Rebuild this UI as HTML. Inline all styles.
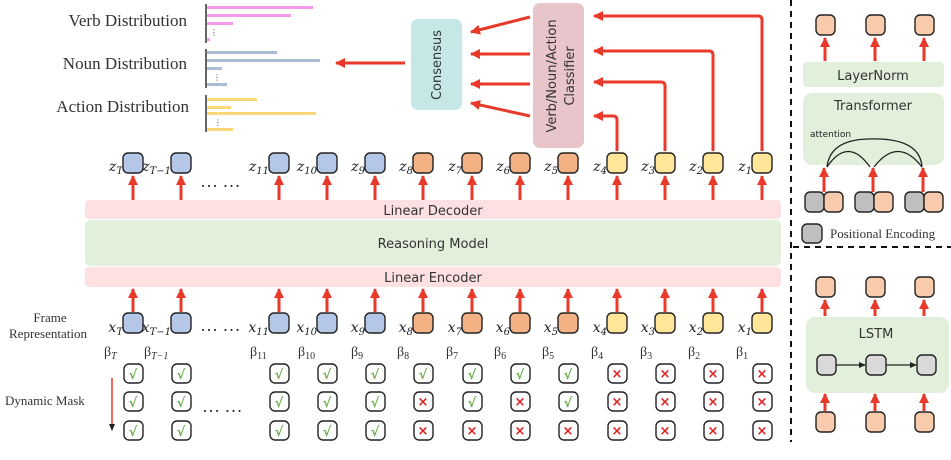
<!DOCTYPE html>
<html><head><meta charset="utf-8"><style>
html,body{margin:0;padding:0;background:#fff}
svg{display:block}
.s{font-family:"DejaVu Sans","Liberation Sans",sans-serif}
.r{font-family:"Liberation Serif","DejaVu Serif",serif;fill:#333}
.m{font-family:"DejaVu Serif","Liberation Serif",serif;font-style:italic;fill:#222}
.b{stroke:#222;stroke-width:1.4}
.ar{stroke:#e8392a;stroke-width:3;fill:none}
.ck{font-family:"DejaVu Sans",sans-serif;font-weight:bold;fill:#6ab04c;font-size:13px}
.xx{font-family:"DejaVu Sans",sans-serif;font-weight:bold;fill:#e02020;font-size:13px}
</style></head><body>
<svg width="951" height="460" viewBox="0 0 951 460" xmlns="http://www.w3.org/2000/svg">
<defs>
<marker id="h" markerUnits="userSpaceOnUse" markerWidth="12" markerHeight="12" refX="9" refY="6" orient="auto">
<path d="M0,1 L10,6 L0,11 Z" fill="#e8392a"/></marker>
<marker id="hs" markerUnits="userSpaceOnUse" markerWidth="8" markerHeight="8" refX="6" refY="4" orient="auto">
<path d="M0,1 L7,4 L0,7 Z" fill="#222"/></marker>
</defs>

<!-- distributions -->
<text class="r" x="187" y="26" font-size="17" text-anchor="end">Verb Distribution</text>
<text class="r" x="187" y="69" font-size="17" text-anchor="end">Noun Distribution</text>
<text class="r" x="189" y="112" font-size="17" text-anchor="end">Action Distribution</text>
<g stroke="#666" stroke-width="2"><line x1="206" y1="4" x2="206" y2="43"/><line x1="206" y1="49" x2="206" y2="88"/><line x1="206" y1="95" x2="206" y2="132"/></g>
<g fill="#f49ae8"><rect x="207" y="6" width="106" height="3"/><rect x="207" y="14" width="84" height="3"/><rect x="207" y="22" width="26" height="3"/><rect x="207" y="38" width="3" height="3"/></g>
<g fill="#a9bcd8"><rect x="207" y="51" width="70" height="3"/><rect x="207" y="59" width="113" height="3"/><rect x="207" y="67" width="15" height="3"/><rect x="207" y="83" width="20" height="3"/></g>
<g fill="#fcd878"><rect x="207" y="98" width="50" height="3"/><rect x="207" y="106" width="24" height="3"/><rect x="207" y="112" width="109" height="3"/><rect x="207" y="128" width="26" height="3"/></g>
<g font-size="8" fill="#333" class="s"><text x="210" y="35">⋮</text><text x="213" y="80">⋮</text><text x="214" y="125">⋮</text></g>
<line class="ar" x1="405" y1="63" x2="336" y2="63" marker-end="url(#h)"/>

<!-- consensus / classifier -->
<rect x="411" y="19" width="51" height="91" rx="7" fill="#c5e8e6"/>
<text class="s" font-size="13" fill="#333" transform="translate(441,65) rotate(-90)" text-anchor="middle">Consensus</text>
<rect x="533" y="3" width="51" height="145" rx="7" fill="#e8c5cb"/>
<text class="s" font-size="13" fill="#333" transform="translate(556,76) rotate(-90)" text-anchor="middle">Verb/Noun/Action</text>
<text class="s" font-size="13" fill="#333" transform="translate(574,76) rotate(-90)" text-anchor="middle">Classifier</text>
<line class="ar" x1="530" y1="17" x2="471" y2="32" marker-end="url(#h)"/>
<line class="ar" x1="530" y1="54" x2="471" y2="54" marker-end="url(#h)"/>
<line class="ar" x1="530" y1="84" x2="471" y2="84" marker-end="url(#h)"/>
<line class="ar" x1="530" y1="116" x2="471" y2="103" marker-end="url(#h)"/>
<path class="ar" d="M617,151 V120 Q617,116 613,116 H594" marker-end="url(#h)"/>
<path class="ar" d="M665,151 V86 Q665,82 661,82 H594" marker-end="url(#h)"/>
<path class="ar" d="M713,151 V55 Q713,51 709,51 H594" marker-end="url(#h)"/>
<path class="ar" d="M762,151 V20 Q762,16 758,16 H594" marker-end="url(#h)"/>

<!-- bands -->
<rect x="85" y="200" width="696" height="19" rx="4" fill="#fde0e2"/>
<text class="s" x="433" y="215" font-size="13" fill="#333" text-anchor="middle">Linear Decoder</text>
<rect x="85" y="220" width="696" height="46" rx="5" fill="#e2efda"/>
<text class="s" x="433" y="248" font-size="13" fill="#333" text-anchor="middle">Reasoning Model</text>
<rect x="85" y="267" width="696" height="20" rx="4" fill="#fde0e2"/>
<text class="s" x="433" y="282" font-size="13" fill="#333" text-anchor="middle">Linear Encoder</text>

<!-- arrows z and x -->
<g class="ar" marker-end="url(#h)">
<line x1="133" y1="200" x2="133" y2="176"/><line x1="181" y1="200" x2="181" y2="176"/><line x1="279" y1="200" x2="279" y2="176"/><line x1="327" y1="200" x2="327" y2="176"/><line x1="375" y1="200" x2="375" y2="176"/><line x1="423" y1="200" x2="423" y2="176"/><line x1="472" y1="200" x2="472" y2="176"/><line x1="520" y1="200" x2="520" y2="176"/><line x1="568" y1="200" x2="568" y2="176"/><line x1="617" y1="200" x2="617" y2="176"/><line x1="665" y1="200" x2="665" y2="176"/><line x1="713" y1="200" x2="713" y2="176"/><line x1="762" y1="200" x2="762" y2="176"/>
<line x1="133" y1="312" x2="133" y2="289"/><line x1="181" y1="312" x2="181" y2="289"/><line x1="279" y1="312" x2="279" y2="289"/><line x1="327" y1="312" x2="327" y2="289"/><line x1="375" y1="312" x2="375" y2="289"/><line x1="423" y1="312" x2="423" y2="289"/><line x1="472" y1="312" x2="472" y2="289"/><line x1="520" y1="312" x2="520" y2="289"/><line x1="568" y1="312" x2="568" y2="289"/><line x1="617" y1="312" x2="617" y2="289"/><line x1="665" y1="312" x2="665" y2="289"/><line x1="713" y1="312" x2="713" y2="289"/><line x1="762" y1="312" x2="762" y2="289"/>
</g>

<!-- z nodes -->
<g class="b">
<rect x="123" y="153" width="20" height="20" rx="5" fill="#b4c7e7"/><rect x="171" y="153" width="20" height="20" rx="5" fill="#b4c7e7"/><rect x="269" y="153" width="20" height="20" rx="5" fill="#b4c7e7"/><rect x="317" y="153" width="20" height="20" rx="5" fill="#b4c7e7"/><rect x="365" y="153" width="20" height="20" rx="5" fill="#b4c7e7"/>
<rect x="413" y="153" width="20" height="20" rx="5" fill="#f4b183"/><rect x="462" y="153" width="20" height="20" rx="5" fill="#f4b183"/><rect x="510" y="153" width="20" height="20" rx="5" fill="#f4b183"/><rect x="558" y="153" width="20" height="20" rx="5" fill="#f4b183"/>
<rect x="607" y="153" width="20" height="20" rx="5" fill="#ffe699"/><rect x="655" y="153" width="20" height="20" rx="5" fill="#ffe699"/><rect x="703" y="153" width="20" height="20" rx="5" fill="#ffe699"/><rect x="752" y="153" width="20" height="20" rx="5" fill="#ffe699"/>
</g>
<g class="b">
<rect x="123" y="313" width="20" height="20" rx="5" fill="#b4c7e7"/><rect x="171" y="313" width="20" height="20" rx="5" fill="#b4c7e7"/><rect x="269" y="313" width="20" height="20" rx="5" fill="#b4c7e7"/><rect x="317" y="313" width="20" height="20" rx="5" fill="#b4c7e7"/><rect x="365" y="313" width="20" height="20" rx="5" fill="#b4c7e7"/>
<rect x="413" y="313" width="20" height="20" rx="5" fill="#f4b183"/><rect x="462" y="313" width="20" height="20" rx="5" fill="#f4b183"/><rect x="510" y="313" width="20" height="20" rx="5" fill="#f4b183"/><rect x="558" y="313" width="20" height="20" rx="5" fill="#f4b183"/>
<rect x="607" y="313" width="20" height="20" rx="5" fill="#ffe699"/><rect x="655" y="313" width="20" height="20" rx="5" fill="#ffe699"/><rect x="703" y="313" width="20" height="20" rx="5" fill="#ffe699"/><rect x="752" y="313" width="20" height="20" rx="5" fill="#ffe699"/>
</g>

<!-- z labels -->
<g class="m" font-size="14" text-anchor="end">
<text x="123" y="171">z<tspan font-size="10" dy="3">T</tspan></text>
<text x="171" y="171">z<tspan font-size="10" dy="3">T−1</tspan></text>
<text x="269" y="171">z<tspan font-size="10" dy="3">11</tspan></text>
<text x="317" y="171">z<tspan font-size="10" dy="3">10</tspan></text>
<text x="365" y="171">z<tspan font-size="10" dy="3">9</tspan></text>
<text x="413" y="171">z<tspan font-size="10" dy="3">8</tspan></text>
<text x="462" y="171">z<tspan font-size="10" dy="3">7</tspan></text>
<text x="510" y="171">z<tspan font-size="10" dy="3">6</tspan></text>
<text x="558" y="171">z<tspan font-size="10" dy="3">5</tspan></text>
<text x="607" y="171">z<tspan font-size="10" dy="3">4</tspan></text>
<text x="655" y="171">z<tspan font-size="10" dy="3">3</tspan></text>
<text x="703" y="171">z<tspan font-size="10" dy="3">2</tspan></text>
<text x="752" y="171">z<tspan font-size="10" dy="3">1</tspan></text>
</g>
<g class="m" font-size="14" text-anchor="end">
<text x="123" y="332">x<tspan font-size="10" dy="3">T</tspan></text>
<text x="171" y="332">x<tspan font-size="10" dy="3">T−1</tspan></text>
<text x="269" y="332">x<tspan font-size="10" dy="3">11</tspan></text>
<text x="317" y="332">x<tspan font-size="10" dy="3">10</tspan></text>
<text x="365" y="332">x<tspan font-size="10" dy="3">9</tspan></text>
<text x="413" y="332">x<tspan font-size="10" dy="3">8</tspan></text>
<text x="462" y="332">x<tspan font-size="10" dy="3">7</tspan></text>
<text x="510" y="332">x<tspan font-size="10" dy="3">6</tspan></text>
<text x="558" y="332">x<tspan font-size="10" dy="3">5</tspan></text>
<text x="607" y="332">x<tspan font-size="10" dy="3">4</tspan></text>
<text x="655" y="332">x<tspan font-size="10" dy="3">3</tspan></text>
<text x="703" y="332">x<tspan font-size="10" dy="3">2</tspan></text>
<text x="752" y="332">x<tspan font-size="10" dy="3">1</tspan></text>
</g>
<g class="r" font-size="14" fill="#333">
<text x="104" y="356">β<tspan font-size="10" dy="3" font-style="italic">T</tspan></text>
<text x="144" y="356">β<tspan font-size="10" dy="3" font-style="italic">T−1</tspan></text>
<text x="250" y="356">β<tspan font-size="10" dy="3">11</tspan></text>
<text x="298" y="356">β<tspan font-size="10" dy="3">10</tspan></text>
<text x="351" y="356">β<tspan font-size="10" dy="3">9</tspan></text>
<text x="397" y="356">β<tspan font-size="10" dy="3">8</tspan></text>
<text x="446" y="356">β<tspan font-size="10" dy="3">7</tspan></text>
<text x="494" y="356">β<tspan font-size="10" dy="3">6</tspan></text>
<text x="542" y="356">β<tspan font-size="10" dy="3">5</tspan></text>
<text x="591" y="356">β<tspan font-size="10" dy="3">4</tspan></text>
<text x="640" y="356">β<tspan font-size="10" dy="3">3</tspan></text>
<text x="688" y="356">β<tspan font-size="10" dy="3">2</tspan></text>
<text x="736" y="356">β<tspan font-size="10" dy="3">1</tspan></text>
</g>

<g class="r" font-size="18" fill="#222">
<text x="200" y="187">… …</text><text x="200" y="331">… …</text><text x="202" y="412">… …</text>
</g>
<text class="r" x="50" y="322" font-size="13" text-anchor="middle">Frame</text>
<text class="r" x="48" y="338" font-size="13" text-anchor="middle">Representation</text>
<text class="r" x="5" y="405" font-size="13">Dynamic Mask</text>
<line x1="112" y1="378" x2="112" y2="430" stroke="#e8392a" stroke-width="1.5" marker-end="url(#hs)"/>

<!-- mask boxes -->
<g fill="#fff" class="b">
<rect x="124" y="364" width="19" height="19" rx="5"/><rect x="172" y="364" width="19" height="19" rx="5"/><rect x="270" y="364" width="19" height="19" rx="5"/><rect x="318" y="364" width="19" height="19" rx="5"/><rect x="366" y="364" width="19" height="19" rx="5"/><rect x="414" y="364" width="19" height="19" rx="5"/><rect x="463" y="364" width="19" height="19" rx="5"/><rect x="511" y="364" width="19" height="19" rx="5"/><rect x="559" y="364" width="19" height="19" rx="5"/><rect x="608" y="364" width="19" height="19" rx="5"/><rect x="656" y="364" width="19" height="19" rx="5"/><rect x="704" y="364" width="19" height="19" rx="5"/><rect x="753" y="364" width="19" height="19" rx="5"/>
<rect x="124" y="392" width="19" height="19" rx="5"/><rect x="172" y="392" width="19" height="19" rx="5"/><rect x="270" y="392" width="19" height="19" rx="5"/><rect x="318" y="392" width="19" height="19" rx="5"/><rect x="366" y="392" width="19" height="19" rx="5"/><rect x="414" y="392" width="19" height="19" rx="5"/><rect x="463" y="392" width="19" height="19" rx="5"/><rect x="511" y="392" width="19" height="19" rx="5"/><rect x="559" y="392" width="19" height="19" rx="5"/><rect x="608" y="392" width="19" height="19" rx="5"/><rect x="656" y="392" width="19" height="19" rx="5"/><rect x="704" y="392" width="19" height="19" rx="5"/><rect x="753" y="392" width="19" height="19" rx="5"/>
<rect x="124" y="421" width="19" height="19" rx="5"/><rect x="172" y="421" width="19" height="19" rx="5"/><rect x="270" y="421" width="19" height="19" rx="5"/><rect x="318" y="421" width="19" height="19" rx="5"/><rect x="366" y="421" width="19" height="19" rx="5"/><rect x="414" y="421" width="19" height="19" rx="5"/><rect x="463" y="421" width="19" height="19" rx="5"/><rect x="511" y="421" width="19" height="19" rx="5"/><rect x="559" y="421" width="19" height="19" rx="5"/><rect x="608" y="421" width="19" height="19" rx="5"/><rect x="656" y="421" width="19" height="19" rx="5"/><rect x="704" y="421" width="19" height="19" rx="5"/><rect x="753" y="421" width="19" height="19" rx="5"/>
</g>
<g text-anchor="middle">
<text class="ck" x="133" y="379">√</text><text class="ck" x="181" y="379">√</text><text class="ck" x="279" y="379">√</text><text class="ck" x="327" y="379">√</text><text class="ck" x="375" y="379">√</text><text class="ck" x="423" y="379">√</text><text class="ck" x="472" y="379">√</text><text class="ck" x="520" y="379">√</text><text class="ck" x="568" y="379">√</text><text class="xx" x="617" y="378">×</text><text class="xx" x="665" y="378">×</text><text class="xx" x="713" y="378">×</text><text class="xx" x="762" y="378">×</text>
<text class="ck" x="133" y="407">√</text><text class="ck" x="181" y="407">√</text><text class="ck" x="279" y="407">√</text><text class="ck" x="327" y="407">√</text><text class="ck" x="375" y="407">√</text><text class="xx" x="423" y="406">×</text><text class="ck" x="472" y="407">√</text><text class="xx" x="520" y="406">×</text><text class="ck" x="568" y="407">√</text><text class="xx" x="617" y="406">×</text><text class="xx" x="665" y="406">×</text><text class="xx" x="713" y="406">×</text><text class="xx" x="762" y="406">×</text>
<text class="ck" x="133" y="436">√</text><text class="ck" x="181" y="436">√</text><text class="ck" x="279" y="436">√</text><text class="ck" x="327" y="436">√</text><text class="ck" x="375" y="436">√</text><text class="xx" x="423" y="435">×</text><text class="xx" x="472" y="435">×</text><text class="xx" x="520" y="435">×</text><text class="xx" x="568" y="435">×</text><text class="xx" x="617" y="435">×</text><text class="xx" x="665" y="435">×</text><text class="xx" x="713" y="435">×</text><text class="xx" x="762" y="435">×</text>
</g>

<!-- right panel -->
<line x1="791" y1="0" x2="791" y2="442" stroke="#111" stroke-width="2" stroke-dasharray="6,5"/>
<line x1="793" y1="247" x2="951" y2="247" stroke="#111" stroke-width="2" stroke-dasharray="6,5"/>
<g class="b" fill="#f8cbad">
<rect x="816" y="15" width="19" height="20" rx="5"/><rect x="866" y="15" width="19" height="20" rx="5"/><rect x="915" y="15" width="19" height="20" rx="5"/>
</g>
<g class="ar" marker-end="url(#h)">
<line x1="825" y1="61" x2="825" y2="38"/><line x1="875" y1="61" x2="875" y2="38"/><line x1="924" y1="61" x2="924" y2="38"/>
<line x1="824" y1="192" x2="824" y2="168"/><line x1="873" y1="192" x2="873" y2="168"/><line x1="923" y1="192" x2="923" y2="168"/>
</g>
<rect x="803" y="62" width="141" height="25" rx="4" fill="#e2efda"/>
<text class="s" x="873" y="80" font-size="13" fill="#333" text-anchor="middle">LayerNorm</text>
<rect x="803" y="93" width="141" height="72" rx="9" fill="#e2efda"/>
<text class="s" x="873" y="110" font-size="13" fill="#333" text-anchor="middle">Transformer</text>
<text class="s" x="810" y="137" font-size="9" fill="#222">attention</text>
<g fill="none" stroke="#222" stroke-width="1.3">
<path d="M827,167 Q848,136 870,167"/><path d="M874,167 Q898,136 922,167"/><path d="M827,167 Q830,140 868,139 Q920,137 922,167"/>
</g>
<g class="b">
<rect x="805" y="192" width="19" height="20" rx="5" fill="#bfbfbf"/><rect x="824" y="192" width="19" height="20" rx="5" fill="#f8cbad"/>
<rect x="855" y="192" width="19" height="20" rx="5" fill="#bfbfbf"/><rect x="874" y="192" width="19" height="20" rx="5" fill="#f8cbad"/>
<rect x="905" y="192" width="19" height="20" rx="5" fill="#bfbfbf"/><rect x="924" y="192" width="19" height="20" rx="5" fill="#f8cbad"/>
<rect x="802" y="224" width="20" height="19" rx="5" fill="#bfbfbf"/>
</g>
<text class="r" x="830" y="238" font-size="13">Positional Encoding</text>

<g class="b" fill="#f8cbad">
<rect x="816" y="277" width="19" height="20" rx="5"/><rect x="866" y="277" width="19" height="20" rx="5"/><rect x="915" y="277" width="19" height="20" rx="5"/>
<rect x="816" y="412" width="19" height="20" rx="5"/><rect x="866" y="412" width="19" height="20" rx="5"/><rect x="915" y="412" width="19" height="20" rx="5"/>
</g>
<g class="ar" marker-end="url(#h)">
<line x1="825" y1="316" x2="825" y2="300"/><line x1="875" y1="316" x2="875" y2="300"/><line x1="924" y1="316" x2="924" y2="300"/>
<line x1="825" y1="411" x2="825" y2="394"/><line x1="875" y1="411" x2="875" y2="394"/><line x1="924" y1="411" x2="924" y2="394"/>
</g>
<rect x="806" y="317" width="143" height="76" rx="9" fill="#e2efda"/>
<text class="s" x="876" y="338" font-size="13" fill="#333" text-anchor="middle">LSTM</text>
<g class="b" fill="#d9d9d9">
<rect x="817" y="355" width="19" height="20" rx="5"/><rect x="866" y="355" width="20" height="20" rx="5"/><rect x="917" y="355" width="19" height="20" rx="5"/>
</g>
<g stroke="#222" stroke-width="1.2" marker-end="url(#hs)"><line x1="836" y1="365" x2="865" y2="365"/><line x1="886" y1="365" x2="916" y2="365"/></g>
</svg>
</body></html>
